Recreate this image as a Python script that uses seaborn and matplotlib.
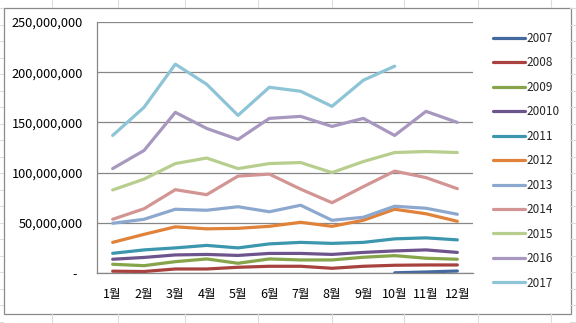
import numpy as np
import pandas as pd
import matplotlib
matplotlib.use("Agg")
import matplotlib.pyplot as plt
import seaborn as sns
from matplotlib.lines import Line2D
from matplotlib.ticker import FixedLocator, FuncFormatter

months = ["1월", "2월", "3월", "4월", "5월", "6월", "7월", "8월", "9월", "10월", "11월", "12월"]
years = ["2007", "2008", "2009", "20010", "2011", "2012", "2013", "2014", "2015", "2016", "2017"]

nan = np.nan
v2007 = [nan, nan, nan, nan, nan, nan, nan, nan, nan, 0.2e6, 1.0e6, 2.0e6]
v2008 = [1.8e6, 1.5e6, 4.0e6, 4.0e6, 5.7e6, 6.7e6, 6.7e6, 4.7e6, 6.7e6, 7.7e6, 8.0e6, 8.0e6]
v2009 = [8.7e6, 7.3e6, 11.3e6, 14.0e6, 9.7e6, 14.0e6, 13.0e6, 13.0e6, 15.7e6, 17.3e6, 14.7e6, 13.7e6]
v20010 = [13.7e6, 15.5e6, 18.0e6, 18.5e6, 17.5e6, 19.5e6, 19.5e6, 18.5e6, 20.5e6, 22.0e6, 23.0e6, 20.5e6]
v2011 = [19.6e6, 23.0e6, 25.0e6, 27.5e6, 25.0e6, 29.0e6, 30.5e6, 29.5e6, 30.5e6, 34.0e6, 35.0e6, 33.0e6]
v2012 = [30.5e6, 38.5e6, 46.0e6, 44.0e6, 44.5e6, 46.5e6, 50.5e6, 46.5e6, 52.5e6, 63.5e6, 59.0e6, 51.5e6]
v2013 = [49.5e6, 53.5e6, 63.5e6, 62.5e6, 66.0e6, 61.0e6, 67.5e6, 52.5e6, 55.5e6, 66.5e6, 64.5e6, 58.5e6]
v2014 = [53.5e6, 64.0e6, 83.0e6, 78.0e6, 96.5e6, 98.5e6, 83.5e6, 70.0e6, 86.0e6, 101.5e6, 95.0e6, 84.0e6]
v2015 = [82.7e6, 93.5e6, 109.0e6, 114.5e6, 104.0e6, 109.0e6, 110.0e6, 100.0e6, 111.0e6, 120.0e6, 121.0e6, 120.0e6]
v2016 = [104.0e6, 122.0e6, 160.0e6, 144.0e6, 133.0e6, 154.0e6, 156.0e6, 146.0e6, 154.0e6, 137.0e6, 161.0e6, 150.0e6]
v2017 = [137.0e6, 165.0e6, 208.0e6, 188.0e6, 157.0e6, 185.0e6, 181.0e6, 166.0e6, 192.0e6, 206.0e6, nan, nan]

series = [v2007, v2008, v2009, v20010, v2011, v2012, v2013, v2014, v2015, v2016, v2017]
colors = ["#44699E", "#A8423F", "#86A44A", "#6E548D", "#3C96AE", "#E0823A",
          "#8DA8CF", "#D29593", "#B8CE8E", "#A897BF", "#8DC4D6"]
palette = dict(zip(years, colors))

rows = []
for y, vals in zip(years, series):
    for i, v in enumerate(vals):
        rows.append({"year": y, "mi": i, "value": v})
df = pd.DataFrame(rows).dropna()

sns.set_style("white")
plt.rcParams["font.family"] = ["Noto Sans CJK KR", "DejaVu Sans"]

W, H = 576, 323
fig = plt.figure(figsize=(W / 100, H / 100), dpi=100)
fig.patch.set_facecolor("white")

# spreadsheet cell grid outside chart
cell = "#DADCDD"
for xv in [52, 118, 185, 258, 332, 404, 478, 551]:
    fig.add_artist(Line2D([xv / W, xv / W], [1 - 0 / H, 1 - 7 / H], color=cell, lw=0.8))
    fig.add_artist(Line2D([xv / W, xv / W], [1 - 313 / H, 0], color=cell, lw=0.8))
yv = 8
while yv < H:
    fig.add_artist(Line2D([570 / W, 1], [1 - yv / H, 1 - yv / H], color=cell, lw=0.8))
    fig.add_artist(Line2D([0, 3 / W], [1 - yv / H, 1 - yv / H], color=cell, lw=0.8))
    yv += 16.5
# chart border
fig.add_artist(plt.Rectangle((3.5 / W, 1 - 313.5 / H), 567 / W, 306 / H, fill=False,
                             edgecolor="#8A8A8A", lw=0.9, transform=fig.transFigure))

ax = fig.add_axes([97 / W, 1 - 273 / H, 376 / W, 251 / H])
sns.lineplot(data=df, x="mi", y="value", hue="year", hue_order=years, palette=palette,
             linewidth=2.3, legend=False, ax=ax, sort=True, estimator=None)

ax.set_xlim(-0.5, 11.5)
ax.set_ylim(0, 250e6)
ax.set_xlabel("")
ax.set_ylabel("")
ax.set_facecolor("none")

ax.yaxis.set_major_locator(FixedLocator([0, 50e6, 100e6, 150e6, 200e6, 250e6]))
ax.yaxis.set_major_formatter(FuncFormatter(lambda v, p: "-  " if v == 0 else f"{int(v):,}"))
ax.grid(axis="y", color="#878787", lw=0.9)
ax.set_axisbelow(True)

ax.xaxis.set_major_locator(FixedLocator(np.arange(-0.5, 12, 1)))
ax.xaxis.set_major_formatter(FuncFormatter(lambda v, p: ""))
ax.set_xticks(np.arange(12), labels=months, minor=True)

ax.tick_params(axis="x", which="major", length=5, width=0.9, color="#878787", direction="out")
ax.tick_params(axis="x", which="minor", length=0, pad=11, labelsize=9, labelcolor="black")
ax.tick_params(axis="y", which="major", length=4, width=0.9, color="#878787", direction="out",
               pad=6, labelsize=9.2, labelcolor="black")

for s in ["top", "right"]:
    ax.spines[s].set_visible(False)
for s in ["left", "bottom"]:
    ax.spines[s].set_color("#878787")
    ax.spines[s].set_linewidth(0.9)

handles = [Line2D([0], [0], color=palette[y], lw=2.3) for y in years]
fig.legend(handles, years, loc="upper left", bbox_to_anchor=(493 / W, 1 - 32 / H),
           frameon=False, handlelength=2.75, handletextpad=0.05, labelspacing=0.97,
           borderpad=0, borderaxespad=0, fontsize=8.5)

fig.savefig("out.png", dpi=100)
